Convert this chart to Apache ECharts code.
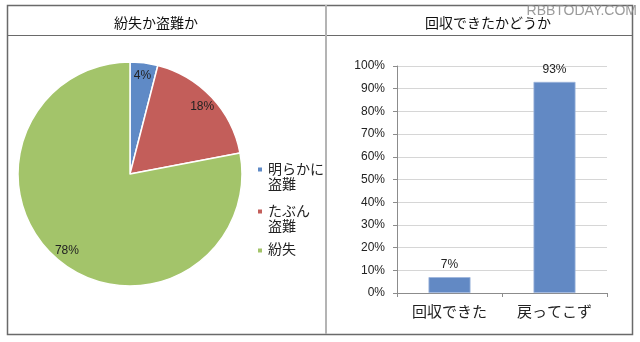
<!DOCTYPE html>
<html>
<head>
<meta charset="utf-8">
<script src="https://cdn.jsdelivr.net/npm/echarts@6/dist/echarts.min.js"></script>
<style>
  html, body { margin: 0; padding: 0; background: #fff; }
  #chart { width: 640px; height: 342px; }
</style>
</head>
<body>
<div id="chart"></div>
<script>
// Left panel: lost or stolen
const pieTitle = '紛失か盗難か';
const pieNames = ['明らかに\n盗難', 'たぶん\n盗難', '紛失'];
const pieValues = [4, 18, 78];
const pieColors = ['#5f8ac6', '#c35e5a', '#a3c46a'];

// Right panel: recovered or not
const barTitle = '回収できたかどうか';
const barCategories = ['回収できた', '戻ってこず'];
const barValues = [7, 93];
const barColor = '#6289c4';

const FONT = '"Liberation Sans", "Noto Sans CJK JP", sans-serif';
const frameColor = '#6a6a6a';

const chart = echarts.init(document.getElementById('chart'), null, { renderer: 'canvas' });

// square icon sitting on the first text line of a two-line legend entry
const topSquare = 'path://M0,0h10v10h-10zM0,38h0.01';

const legendTops = [158, 200, 238];
const legends = pieNames.map((name, i) => {
  const twoLine = name.indexOf('\n') >= 0;
  return {
    orient: 'vertical',
    left: 251,
    top: legendTops[i],
    itemWidth: 6,
    itemHeight: twoLine ? 23 : 6,
    itemGap: 0,
    selectedMode: false,
    data: [{ name: name, icon: twoLine ? topSquare : 'rect' }],
    textStyle: { fontFamily: FONT, fontSize: 14, color: '#222', lineHeight: 15 }
  };
});

chart.setOption({
  animation: false,
  backgroundColor: '#fff',
  color: pieColors,
  title: [
    { text: pieTitle, left: 151, top: 12, textAlign: 'center',
      textStyle: { fontFamily: FONT, fontSize: 14, fontWeight: 'normal', color: '#111' } },
    { text: barTitle, left: 483, top: 12, textAlign: 'center',
      textStyle: { fontFamily: FONT, fontSize: 14, fontWeight: 'normal', color: '#111' } }
  ],
  legend: legends,
  graphic: [
    // table frame
    { type: 'rect', shape: { x: 7.5, y: 5.5, width: 625, height: 329 }, silent: true,
      style: { fill: 'none', stroke: frameColor, lineWidth: 1.5 } },
    { type: 'line', shape: { x1: 7, y1: 35.5, x2: 632, y2: 35.5 }, silent: true,
      style: { stroke: frameColor, lineWidth: 1.2 } },
    { type: 'line', shape: { x1: 326, y1: 5, x2: 326, y2: 334 }, silent: true,
      style: { stroke: '#b4b4b4', lineWidth: 2 } },
    // site mark
    { type: 'text', x: 637, y: 4, silent: true,
      style: { text: 'RBBTODAY.COM', fill: '#8a8a8a', font: '14px ' + FONT,
               align: 'right', opacity: 0.85 } }
  ],
  grid: { left: 397, right: 33, top: 66, bottom: 49 },
  xAxis: {
    type: 'category',
    data: barCategories,
    axisLine: { lineStyle: { color: '#8c8c8c' } },
    axisTick: { show: true, length: 4, alignWithLabel: false, lineStyle: { color: '#8c8c8c' } },
    axisLabel: { fontFamily: FONT, fontSize: 15, color: '#222', margin: 12 }
  },
  yAxis: {
    type: 'value',
    min: 0, max: 100, interval: 10,
    axisLine: { show: true, lineStyle: { color: '#8c8c8c' } },
    axisTick: { show: true, length: 4, lineStyle: { color: '#8c8c8c' } },
    axisLabel: { fontFamily: FONT, fontSize: 12, color: '#222', margin: 12, formatter: '{value}%' },
    splitLine: { lineStyle: { color: '#d6d6d6' } }
  },
  series: [
    {
      type: 'pie',
      center: [130, 174],
      radius: [0, 112],
      startAngle: 90,
      clockwise: true,
      silent: true,
      data: pieNames.map((n, i) => ({ name: n, value: pieValues[i] })),
      itemStyle: { borderColor: '#fff', borderWidth: 1.5 },
      label: { show: false },
      labelLine: { show: false }
    },
    {
      // transparent ring that carries the percentage labels near the rim
      type: 'pie',
      center: [130, 174],
      radius: [80, 112],
      startAngle: 90,
      clockwise: true,
      silent: true,
      legendHoverLink: false,
      data: pieNames.map((n, i) => ({ name: n, value: pieValues[i] })),
      itemStyle: { color: 'rgba(0,0,0,0)' },
      label: {
        show: true, position: 'inner',
        formatter: p => p.value + '%',
        fontFamily: FONT, fontSize: 12, color: '#222'
      },
      labelLine: { show: false }
    },
    {
      type: 'bar',
      data: barValues,
      barWidth: '40%',
      itemStyle: { color: barColor, borderColor: '#9db5dc', borderWidth: 0.8 },
      label: {
        show: true, position: 'top', distance: 6,
        formatter: p => p.value + '%',
        fontFamily: FONT, fontSize: 12, color: '#222'
      },
      silent: true
    }
  ]
});
</script>
</body>
</html>
